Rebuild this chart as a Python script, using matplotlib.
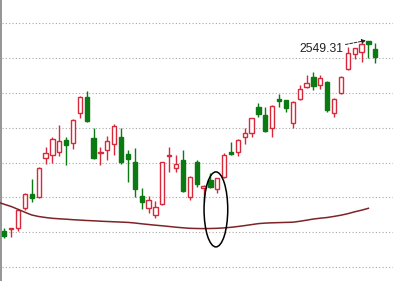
import matplotlib
matplotlib.use("Agg")
import matplotlib.pyplot as plt
from matplotlib.patches import Ellipse
import numpy as np

# daily candles, index points
opens = [2359.5, 2361.0, 2362.3, 2382.3, 2396.5, 2393.5, 2431.7, 2435.0, 2438.3, 2450.0,
         2446.7, 2476.7, 2493.3, 2452.3, 2437.0, 2440.0, 2445.7, 2453.3, 2435.7, 2428.3,
         2394.0, 2381.7, 2375.0, 2385.7, 2434.2, 2421.7, 2430.0, 2393.3, 2427.7, 2401.7,
         2409.7, 2400.7, 2413.0, 2438.0, 2437.7, 2453.3, 2456.7, 2483.3, 2475.0, 2461.7,
         2491.0, 2490.0, 2466.7, 2490.7, 2503.3, 2513.3, 2505.0, 2508.3, 2477.5, 2496.7,
         2521.0, 2536.0, 2538.0, 2549.0, 2540.7]
closes = [2354.5, 2361.7, 2380.0, 2395.7, 2391.7, 2421.7, 2436.7, 2451.0, 2449.3, 2445.0,
          2470.0, 2493.3, 2469.3, 2431.7, 2437.5, 2449.0, 2464.3, 2428.3, 2431.0, 2401.0,
          2387.7, 2390.0, 2383.3, 2427.7, 2435.0, 2425.7, 2399.0, 2413.3, 2406.0, 2404.0,
          2403.3, 2411.7, 2435.3, 2436.0, 2450.5, 2456.7, 2471.7, 2475.7, 2459.3, 2484.0,
          2489.0, 2481.7, 2488.3, 2500.7, 2506.7, 2504.0, 2511.7, 2480.0, 2491.0, 2513.3,
          2537.0, 2541.7, 2546.5, 2545.7, 2533.3]
highs = [2362.0, 2362.0, 2381.0, 2397.0, 2410.7, 2423.0, 2442.7, 2452.7, 2465.0, 2453.3,
         2471.0, 2494.0, 2499.3, 2462.3, 2443.3, 2454.3, 2465.7, 2462.3, 2440.0, 2441.7,
         2401.7, 2394.0, 2389.0, 2428.5, 2442.7, 2435.0, 2440.0, 2414.0, 2430.0, 2405.0,
         2416.7, 2412.5, 2437.3, 2448.0, 2451.5, 2461.7, 2472.5, 2486.7, 2483.3, 2485.0,
         2495.7, 2490.5, 2489.0, 2505.0, 2515.0, 2518.3, 2515.0, 2509.5, 2492.0, 2514.0,
         2543.3, 2542.5, 2548.3, 2549.31, 2546.7]
lows = [2352.5, 2353.0, 2359.0, 2380.0, 2388.0, 2392.5, 2426.5, 2426.7, 2434.3, 2425.5,
        2440.7, 2472.5, 2468.3, 2431.0, 2425.0, 2430.0, 2435.0, 2426.0, 2408.3, 2393.3,
        2381.0, 2376.7, 2371.7, 2385.0, 2418.5, 2418.5, 2398.0, 2390.0, 2403.3, 2388.3,
        2401.7, 2396.7, 2412.0, 2435.0, 2434.0, 2445.7, 2453.3, 2472.7, 2458.5, 2453.3,
        2483.3, 2478.3, 2462.3, 2490.0, 2502.5, 2500.0, 2500.7, 2478.3, 2473.3, 2496.0,
        2520.3, 2530.7, 2528.3, 2531.7, 2526.7]

# long moving average, starts one bar before the first visible candle
ma = [2388.0, 2385.7, 2383.5, 2380.7, 2377.7, 2375.0, 2373.5, 2372.5, 2371.7, 2371.2,
      2370.8, 2370.3, 2369.9, 2369.5, 2369.2, 2368.8, 2368.5, 2368.2, 2367.9, 2367.6,
      2367.0, 2366.2, 2365.5, 2364.8, 2364.2, 2363.5, 2362.8, 2362.2, 2361.7, 2361.5,
      2361.4, 2361.5, 2361.7, 2362.1, 2362.7, 2363.5, 2364.4, 2365.4, 2366.4, 2366.9,
      2367.2, 2367.4, 2367.6, 2367.8, 2368.7, 2369.8, 2371.0, 2371.8, 2372.5, 2373.6,
      2374.8, 2376.3, 2378.2, 2379.8, 2381.7]

grid_levels = [2567.5, 2532.5, 2497.5, 2462.5, 2427.5, 2392.8, 2358.3, 2323.5]
peak_label = "2549.31"

red = "#d8283c"
green = "#0b7a12"

if __name__ == '__main__':
    fig = plt.figure(figsize=(3.93, 2.81), dpi=100)
    ax = fig.add_axes([0, 0, 1, 1])
    ax.set_xlim(0.374, 57.58)
    ax.set_ylim(2309, 2590)
    for s in ax.spines.values():
        s.set_visible(False)
    ax.set_xticks([])
    ax.set_yticks([])

    ax.hlines(grid_levels, 0.66, 57.58, colors="#a8a8a8", linestyles=(0, (1, 2)),
              linewidth=0.8, zorder=0)
    ax.axvline(0.505, color="#8c8c8c", linewidth=1.3)

    o = np.array(opens)
    c = np.array(closes)
    idx = np.arange(1, len(o) + 1)
    up = c >= o
    cols = np.where(up, red, green)

    ax.vlines(idx, lows, highs, colors=cols, linewidth=1.0, zorder=1)
    body = np.maximum(np.abs(c - o), 0.6)
    ax.bar(idx[up], body[up], bottom=np.minimum(o, c)[up], width=0.62,
           facecolor="white", edgecolor=red, linewidth=1.0, zorder=2)
    ax.bar(idx[~up], body[~up], bottom=np.minimum(o, c)[~up], width=0.62,
           facecolor=green, edgecolor=green, linewidth=1.0, zorder=2)

    ax.plot(np.arange(0, len(ma)), ma, color="#7e2428", linewidth=1.1, zorder=3)

    # hand-drawn circle around the low
    ax.add_patch(Ellipse((31.8, 2380.6), 3.45, 75, fill=False, edgecolor="black",
                         linewidth=1.1, zorder=4))

    ax.text(43.94, 2537.5, peak_label, ha="left", va="baseline",
            fontsize=8.7, family="Liberation Sans", color="#222222")
    ax.annotate("", xy=(53.65, 2549.5), xytext=(50.66, 2545.5),
                arrowprops=dict(arrowstyle="-|>", color="#222222", linewidth=0.7,
                                linestyle=(0, (3, 1.5)), mutation_scale=6,
                                shrinkA=0, shrinkB=0))

    plt.savefig("out.png", dpi=100)
